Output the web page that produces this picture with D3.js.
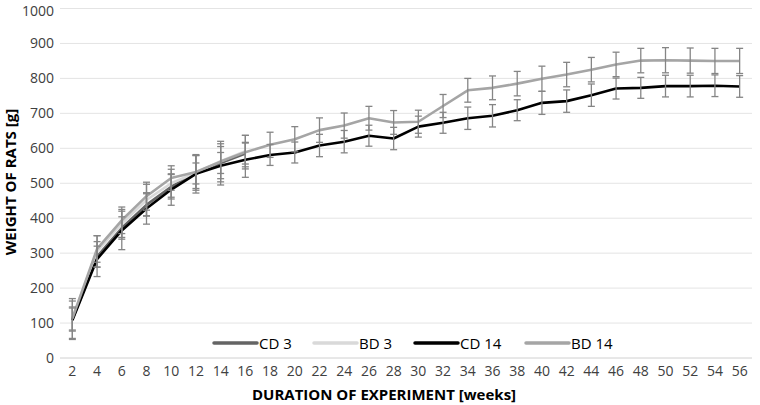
<!DOCTYPE html>
<html><head><meta charset="utf-8">
<script src="https://cdn.jsdelivr.net/npm/d3@7"></script>
<style>body{margin:0;background:#fff}svg{display:block}</style>
</head><body><svg id="c" width="760" height="405"></svg>
<script>
const weeks = [2,4,6,8,10,12,14,16,18,20,22,24,26,28,30,32,34,36,38,40,42,44,46,48,50,52,54,56];
const yTicks = [0,100,200,300,400,500,600,700,800,900,1000];
const seriesNames = ["CD 3","BD 3","CD 14","BD 14"];
const cd3 = [110,290,372,438,490,528,558,585];
const cd3Err = [33,30,32,32,35,30,30,30];
const bd3 = [113,305,385,452,500,530,563,592];
const bd3Err = [57,45,40,45,40,50,50,45];
const cd14 = [108,283,365,428,482,527,550,567,581,588,608,619,636,628,662,673,686,693,709,730,735,752,771,773,778,778,779,777];
const cd14Err = [55,50,55,45,45,55,55,50,30,30,32,32,30,32,30,30,32,32,30,33,32,32,30,30,31,31,31,31];
const bd14 = [113,312,394,463,515,532,562,589,610,626,652,665,686,674,676,721,766,773,785,799,811,825,840,851,852,851,850,850];
const bd14Err = [33,38,38,40,35,47,58,48,36,36,35,36,34,34,33,33,34,34,35,36,35,35,35,35,36,36,36,36];
const colors = ["#646464","#d9d9d9","#000000","#a5a5a5"];

const svg = d3.select("#c");
const x = d3.scaleBand().domain(weeks).range([60,752]);
const y = d3.scaleLinear().domain([0,1000]).range([358,8.5]);
const cx = w => x(w) + x.bandwidth()/2;
const FONT = "'Open Sans', sans-serif";

// gridlines
svg.append("g").selectAll("line").data(yTicks).join("line")
  .attr("x1",60).attr("x2",752).attr("y1",d=>y(d)).attr("y2",d=>y(d))
  .attr("stroke", d=> d===0 ? "#d0d0d0" : "#e4e4e4").attr("stroke-width",1);

// axes
const yAxis = svg.append("g").attr("transform","translate(60,0)")
  .call(d3.axisLeft(y).tickValues(yTicks).tickFormat(d3.format("d")).tickSize(0).tickPadding(6));
yAxis.select(".domain").remove();
yAxis.selectAll("text").attr("font-family",FONT).attr("font-size",14).attr("fill","#404040");
yAxis.selectAll(".tick").filter(d=>d===1000).select("text").attr("y",3);
const xAxis = svg.append("g").attr("transform","translate(0,358)")
  .call(d3.axisBottom(x).tickSize(0).tickPadding(8));
xAxis.select(".domain").remove();
xAxis.selectAll("text").attr("font-family",FONT).attr("font-size",14).attr("fill","#404040");

// titles
svg.append("text").attr("transform","translate(16,182) rotate(-90)").attr("text-anchor","middle")
  .attr("font-family",FONT).attr("font-weight","bold").attr("font-size",15).attr("fill","#000")
  .text("WEIGHT OF RATS [g]");
svg.append("text").attr("x",384).attr("y",400).attr("text-anchor","middle")
  .attr("font-family",FONT).attr("font-weight","bold").attr("font-size",15).attr("fill","#000")
  .text("DURATION OF EXPERIMENT [weeks]");

const all = [
  {vals:cd3, err:cd3Err, color:colors[0]},
  {vals:bd3, err:bd3Err, color:colors[1]},
  {vals:cd14, err:cd14Err, color:colors[2]},
  {vals:bd14, err:bd14Err, color:colors[3]}
];
const line = d3.line().x(d=>cx(d.w)).y(d=>y(d.v));
all.forEach(s=>{
  const pts = s.vals.map((v,i)=>({w:weeks[i], v, e:s.err[i]}));
  svg.append("path").datum(pts).attr("d",line).attr("fill","none")
    .attr("stroke",s.color).attr("stroke-width",2.6).attr("stroke-linejoin","round");
  s.pts = pts;
});
// error bars
const eg = svg.append("g").attr("stroke","#858585").attr("stroke-width",1.3);
all.forEach(s=>{
  s.pts.forEach(p=>{
    const X = cx(p.w);
    eg.append("line").attr("x1",X).attr("x2",X).attr("y1",y(p.v+p.e)).attr("y2",y(p.v-p.e));
    [p.v+p.e, p.v-p.e].forEach(v=>{
      eg.append("line").attr("x1",X-3.5).attr("x2",X+3.5).attr("y1",y(v)).attr("y2",y(v));
    });
  });
});

// legend
const legX = [214,314,415,526];
const lg = svg.append("g");
seriesNames.forEach((n,i)=>{
  lg.append("line").attr("x1",legX[i]).attr("x2",legX[i]+43).attr("y1",343).attr("y2",343)
    .attr("stroke",colors[i]).attr("stroke-width",3.5).attr("stroke-linecap","round");
  lg.append("text").attr("x",legX[i]+45).attr("y",348.5).attr("font-family",FONT)
    .attr("font-size",15).attr("fill","#000").text(n);
});
</script></body></html>
